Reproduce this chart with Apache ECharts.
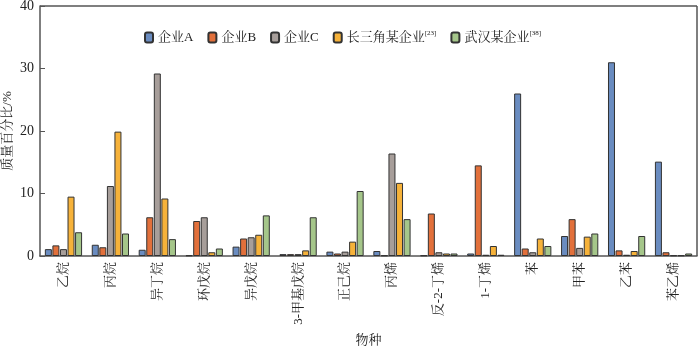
<!DOCTYPE html>
<html><head><meta charset="utf-8">
<script src="https://cdn.jsdelivr.net/npm/echarts@6/dist/echarts.min.js"></script>
<style>html,body{margin:0;padding:0;background:#fff}#c{width:700px;height:347px}</style>
</head><body><div id="c"></div>
<script>
const categories = ['乙烷','丙烷','异丁烷','环戊烷','异戊烷','3-甲基戊烷','正己烷','丙烯','反-2-丁烯','1-丁烯','苯','甲苯','乙苯','苯乙烯'];
const seriesNames = ['企业A','企业B','企业C','长三角某企业[23]','武汉某企业[38]'];
const valuesA = [1.1, 1.8, 1.0, 0.1, 1.5, 0.3, 0.7, 0.8, 0.1, 0.4, 26.0, 3.2, 31.0, 15.1];
const valuesB = [1.7, 1.4, 6.2, 5.6, 2.8, 0.3, 0.4, 0.1, 6.8, 14.5, 1.2, 5.9, 0.9, 0.6];
const valuesC = [1.1, 11.2, 29.2, 6.2, 3.0, 0.3, 0.7, 16.4, 0.6, 0.2, 0.6, 1.3, 0.2, 0.1];
const valuesD = [9.5, 19.9, 9.2, 0.6, 3.4, 0.9, 2.3, 11.7, 0.4, 1.6, 2.8, 3.1, 0.8, 0.1];
const valuesE = [3.8, 3.6, 2.7, 1.2, 6.5, 6.2, 10.4, 5.9, 0.4, 0.2, 1.6, 3.6, 3.2, 0.4];
const yTicks = [0, 10, 20, 30, 40];
const colors = ['#6a8cc0','#e2703b','#a79e9a','#f6b23a','#a5c68a'];
const allValues = [valuesA, valuesB, valuesC, valuesD, valuesE];

const font = "'Liberation Serif','Noto Serif CJK SC','Noto Sans CJK SC',serif";
const chart = echarts.init(document.getElementById('c'), null, {renderer:'canvas'});
chart.setOption({
  animation:false,
  textStyle:{fontFamily:font, color:'#222'},
  grid:{left:40, right:3, top:6, bottom:91, containLabel:false, outerBoundsMode:'none'},
  legend:{
    top:25, left:139, itemWidth:8, itemHeight:10, itemGap:14,
    data:seriesNames,
    textStyle:{fontFamily:font, fontSize:13, color:'#222',
      rich:{sup:{fontSize:7, verticalAlign:'top', padding:[0,0,8,0], fontFamily:font, color:'#222'}}},
    formatter:function(n){
      const m = n.match(/^(.*)(\[\d+\])$/);
      return m ? m[1] + '{sup|' + m[2] + '}' : n;
    }
  },
  xAxis:{
    type:'category', data:categories, name:'物种', nameLocation:'middle', nameGap:78,
    nameMoveOverlap:false,
    nameTextStyle:{fontFamily:font, fontSize:13, color:'#222'},
    axisLine:{lineStyle:{color:'#555', width:1.5}},
    axisTick:{inside:true, length:5, lineStyle:{color:'#555'}},
    axisLabel:{rotate:90, fontFamily:font, fontSize:13, color:'#222', margin:6, interval:0}
  },
  yAxis:{
    type:'value', min:0, max:40, interval:10, name:'质量百分比/%', nameLocation:'middle', nameGap:26,
    nameMoveOverlap:false,
    nameTextStyle:{fontFamily:font, fontSize:13, color:'#222'},
    axisLine:{show:true, lineStyle:{color:'#555', width:1.5}},
    axisTick:{show:true, inside:true, length:5, lineStyle:{color:'#555'}},
    axisLabel:{fontFamily:font, fontSize:14, color:'#222', margin:6,
      formatter:function(v){ return yTicks.indexOf(v)>=0 ? String(v) : ''; }},
    splitLine:{show:false}
  },
  graphic:[
    {type:'line', shape:{x1:40, y1:6, x2:697, y2:6}, style:{stroke:'#555', lineWidth:1.5}},
    {type:'line', shape:{x1:697, y1:6, x2:697, y2:256}, style:{stroke:'#555', lineWidth:1.5}}
  ],
  series: seriesNames.map((n,i)=>({
    name:n, type:'bar', data:allValues[i], barWidth:7, barGap:'8%',
    itemStyle:{color:colors[i], borderColor:'#333', borderWidth:1}
  }))
});
</script></body></html>
